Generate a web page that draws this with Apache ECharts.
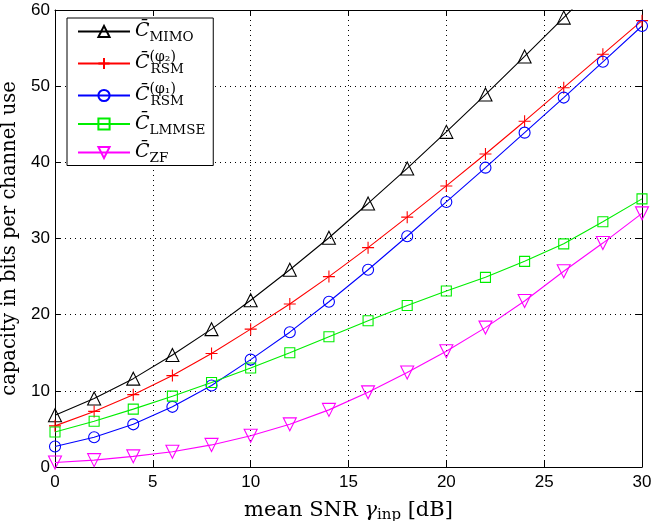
<!DOCTYPE html>
<html>
<head>
<meta charset="utf-8">
<script src="https://cdn.jsdelivr.net/npm/echarts@6/dist/echarts.min.js"></script>
<style>
  html, body { margin: 0; padding: 0; background: #fff; }
  #chart { width: 654px; height: 521px; }
</style>
</head>
<body>
<div id="chart"></div>
<script>
// SNR in dB (markers every 2 dB)
const snr = [0, 2, 4, 6, 8, 10, 12, 14, 16, 18, 20, 22, 24, 26, 28, 30];

const cMimo  = [6.8, 9.0, 11.6, 14.7, 18.1, 21.9, 25.9, 30.1, 34.6, 39.2, 44.0, 48.9, 53.9, 59.0, 64.1, 69.3];
const cRsm2  = [5.4, 7.3, 9.5, 12.0, 14.9, 18.1, 21.4, 25.0, 28.8, 32.8, 36.9, 41.1, 45.4, 49.8, 54.2, 58.6];
const cRsm1  = [2.7, 3.9, 5.6, 7.9, 10.7, 14.1, 17.7, 21.7, 25.9, 30.3, 34.8, 39.3, 43.9, 48.5, 53.2, 57.9];
const cLmmse = [4.6, 6.0, 7.6, 9.3, 11.1, 13.0, 15.0, 17.1, 19.2, 21.2, 23.1, 24.9, 27.0, 29.3, 32.2, 35.2];
const cZf    = [0.6, 0.9, 1.4, 2.0, 2.9, 4.1, 5.6, 7.5, 9.8, 12.4, 15.2, 18.3, 21.8, 25.7, 29.4, 33.3];

const xTicks = [0, 5, 10, 15, 20, 25, 30];
const yTicks = [0, 10, 20, 30, 40, 50, 60];

const legendLabels = {
  MIMO:  '{c|C\u0304}{s|MIMO}',
  RSM2:  '{c|C\u0304}{p|(\u03c6\u2082)}{s|RSM}',
  RSM1:  '{c|C\u0304}{p|(\u03c6\u2081)}{s|RSM}',
  LMMSE: '{c|C\u0304}{s|LMMSE}',
  ZF:    '{c|C\u0304}{s|ZF}'
};

const serif = 'DejaVu Serif';

function pairs(ys) {
  return snr.map((x, i) => [x, ys[i]]);
}

function mkSeries(name, ys, color, symbol, size) {
  return {
    name: name,
    type: 'line',
    data: pairs(ys),
    symbol: symbol,
    symbolSize: size,
    showAllSymbol: true,
    clip: true,
    lineStyle: { color: color, width: 1.1 },
    itemStyle: { color: 'rgba(255,255,255,0)', borderColor: color, borderWidth: 1.1 },
    emphasis: { disabled: true },
    z: 3
  };
}

const plus = 'path://M0,5 L10,5 M5,0 L5,10';
const triDown = 'path://M0,0 L10,0 L5,9 Z';

let myChart = echarts.init(document.getElementById('chart'));

const gridLine = { show: true, lineStyle: { color: '#000', type: [1, 4], width: 1 } };
const tick = { show: true, inside: true, length: 6, lineStyle: { color: '#000' } };
const axLine = { show: true, onZero: false, lineStyle: { color: '#000', width: 1 } };

myChart.setOption({
  animation: false,
  backgroundColor: '#fff',
  grid: { left: 55, right: 12, top: 10, bottom: 54, outerBoundsMode: 'none', containLabel: false },
  legend: {
    orient: 'vertical',
    left: 67,
    top: 18,
    backgroundColor: '#fff',
    borderColor: '#000',
    borderWidth: 1,
    padding: [4, 8, 0, 10],
    itemWidth: 52,
    itemHeight: 14,
    itemGap: 6,
    selectedMode: false,
    data: ['MIMO', 'RSM2', 'RSM1', 'LMMSE', 'ZF'],
    formatter: name => legendLabels[name],
    textStyle: {
      color: '#000',
      rich: {
        c: { fontFamily: serif, fontStyle: 'italic', fontSize: 19, lineHeight: 26, verticalAlign: 'middle', color: '#000' },
        s: { fontFamily: serif, fontSize: 13.5, lineHeight: 13, verticalAlign: 'bottom', color: '#000' },
        p: { fontFamily: serif, fontSize: 14, lineHeight: 13, verticalAlign: 'top', width: 1, color: '#000' }
      }
    }
  },
  xAxis: [{
    type: 'value',
    min: 0, max: 30, interval: 5,
    name: '{t|mean SNR }{g|\u03b3}{s|inp}{t| [dB]}',
    nameLocation: 'middle',
    nameGap: 32,
    nameTextStyle: {
      rich: {
        t: { fontFamily: serif, fontSize: 21, color: '#000', lineHeight: 24, verticalAlign: 'middle' },
        g: { fontFamily: serif, fontStyle: 'italic', fontSize: 21, color: '#000', lineHeight: 24, verticalAlign: 'middle' },
        s: { fontFamily: serif, fontSize: 15, color: '#000', lineHeight: 12, verticalAlign: 'bottom' }
      }
    },
    axisLine: axLine,
    axisTick: tick,
    axisLabel: { color: '#000', fontFamily: 'Liberation Sans', fontSize: 17, margin: 7,
      formatter: v => xTicks.includes(v) ? String(v) : '' },
    splitLine: gridLine
  }, {
    type: 'value', position: 'top',
    min: 0, max: 30, interval: 5,
    axisLine: axLine, axisTick: tick, axisLabel: { show: false }, splitLine: { show: false }
  }],
  yAxis: [{
    type: 'value',
    min: 0, max: 60, interval: 10,
    name: 'capacity in bits per channel use',
    nameLocation: 'middle',
    nameGap: 35,
    nameTextStyle: { fontFamily: serif, fontSize: 19.5, color: '#000' },
    axisLine: axLine,
    axisTick: tick,
    axisLabel: { color: '#000', fontFamily: 'Liberation Sans', fontSize: 17, margin: 5,
      formatter: v => yTicks.includes(v) ? String(v) : '' },
    splitLine: gridLine
  }, {
    type: 'value', position: 'right',
    min: 0, max: 60, interval: 10,
    axisLine: axLine, axisTick: tick, axisLabel: { show: false }, splitLine: { show: false }
  }],
  series: [
    mkSeries('MIMO', cMimo, '#000000', 'triangle', 13),
    mkSeries('RSM2', cRsm2, '#ff0000', plus, 12),
    mkSeries('RSM1', cRsm1, '#0000ff', 'circle', 11),
    mkSeries('LMMSE', cLmmse, '#00ee00', 'rect', 10),
    mkSeries('ZF', cZf, '#ff00ff', triDown, 13)
  ]
});
</script>
</body>
</html>
